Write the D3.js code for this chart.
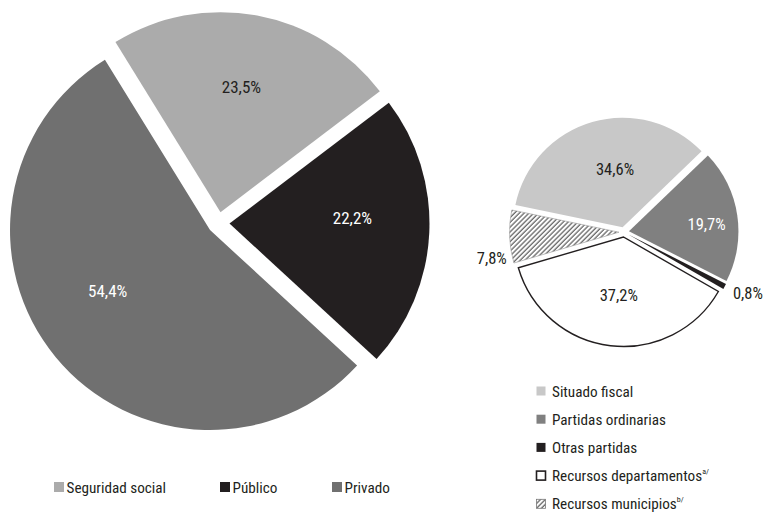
<!DOCTYPE html>
<html>
<head>
<meta charset="utf-8">
<script src="https://cdn.jsdelivr.net/npm/d3@7"></script>
<style>
  html, body { margin: 0; padding: 0; background: #fff; }
  svg { display: block; }
  text { font-family: "Liberation Sans Narrow", "Roboto Condensed", "Arial Narrow", "DejaVu Sans Condensed", sans-serif; }
</style>
</head>
<body>
<svg id="chart" width="765" height="513"></svg>
<script>
// ---- Data ----
const leftCategories = ["Seguridad social", "Público", "Privado"];
const leftValues = [23.5, 22.2, 54.4];
const leftLabels = ["23,5%", "22,2%", "54,4%"];

const rightCategories = ["Situado fiscal", "Partidas ordinarias", "Otras partidas", "Recursos departamentos", "Recursos municipios"];
const rightSuperscripts = ["", "", "", "a/", "b/"];
const rightValues = [34.6, 19.7, 0.8, 37.2, 7.8];
const rightLabels = ["34,6%", "19,7%", "0,8%", "37,2%", "7,8%"];

// ---- Styles / layout ----
const leftColors = ["#ababab", "#231f20", "#707070"];
const leftLabelColors = ["#231f20", "#ffffff", "#ffffff"];
const leftLabelLayout = [ {r: 138, shift: -1}, {r: 134, shift: -5}, {r: 130, shift: 8} ];

const rightFills = ["#c8c8c8", "#808080", "#231f20", "#ffffff", "url(#hatch)"];
const rightStrokes = ["none", "none", "none", "#231f20", "#9a9a9a"];
const rightStrokeW = [0, 0, 0, 1.4, 0.6];
const rightLabelColors = ["#231f20", "#ffffff", "#231f20", "#231f20", "#231f20"];
const rightLabelLayout = [
  {r: 64, shift: 8, anchor: "middle"},
  {r: 83, shift: 3, anchor: "middle"},
  {r: 125, shift: 1, anchor: "start"},
  {r: 63, shift: -2, anchor: "middle"},
  {r: 120, shift: -10, anchor: "end"}
];

const svg = d3.select("#chart");
const deg = Math.PI / 180;

// hatch pattern
const defs = svg.append("defs");
const pat = defs.append("pattern")
  .attr("id", "hatch").attr("patternUnits", "userSpaceOnUse")
  .attr("width", 3.4).attr("height", 3.4)
  .attr("patternTransform", "rotate(45)");
pat.append("rect").attr("width", 3.4).attr("height", 3.4).attr("fill", "#fff");
pat.append("line").attr("x1", 1).attr("y1", 0).attr("x2", 1).attr("y2", 3.4)
  .attr("stroke", "#4a4a4a").attr("stroke-width", 1.1);

function drawPie(cfg) {
  const pie = d3.pie().sort(null).value(d => d)
    .startAngle(cfg.start * deg).endAngle(cfg.start * deg + 2 * Math.PI);
  const arcs = pie(cfg.values);
  const arc = d3.arc().innerRadius(0).outerRadius(cfg.R);
  const g = svg.append("g").attr("transform", `translate(${cfg.cx},${cfg.cy})`);
  g.selectAll("path").data(arcs).join("path")
    .attr("d", arc)
    .attr("transform", d => {
      const m = (d.startAngle + d.endAngle) / 2;
      return `translate(${cfg.explode * Math.sin(m)},${-cfg.explode * Math.cos(m)})`;
    })
    .attr("fill", (d, i) => cfg.fills[i])
    .attr("stroke", (d, i) => cfg.strokes ? cfg.strokes[i] : "none")
    .attr("stroke-width", (d, i) => cfg.strokeW ? cfg.strokeW[i] : 0)
    .attr("stroke-linejoin", "miter");
  g.selectAll("text").data(arcs).join("text")
    .attr("x", (d, i) => {
      const m = (d.startAngle + d.endAngle) / 2 + cfg.layout[i].shift * deg;
      return cfg.layout[i].r * Math.sin(m);
    })
    .attr("y", (d, i) => {
      const m = (d.startAngle + d.endAngle) / 2 + cfg.layout[i].shift * deg;
      return -cfg.layout[i].r * Math.cos(m);
    })
    .attr("dy", "0.36em")
    .attr("text-anchor", (d, i) => cfg.layout[i].anchor || "middle")
    .attr("font-size", cfg.fontSize)
    .attr("fill", (d, i) => cfg.labelColors[i])
    .text((d, i) => cfg.labels[i]);
}

drawPie({
  cx: 218.5, cy: 223, R: 200, explode: 11, start: -31.7, fontSize: 17,
  values: leftValues, labels: leftLabels, fills: leftColors,
  labelColors: leftLabelColors, layout: leftLabelLayout
});

drawPie({
  cx: 624, cy: 232, R: 109.5, explode: 5, start: -78.3, fontSize: 16.5,
  values: rightValues, labels: rightLabels, fills: rightFills,
  strokes: rightStrokes, strokeW: rightStrokeW,
  labelColors: rightLabelColors, layout: rightLabelLayout
});

// ---- Left legend ----
const leftLegendX = [54, 220, 332];
const lg = svg.append("g");
leftCategories.forEach((c, i) => {
  lg.append("rect").attr("x", leftLegendX[i]).attr("y", 482).attr("width", 10).attr("height", 10)
    .attr("fill", leftColors[i]);
  lg.append("text").attr("x", leftLegendX[i] + 12.5).attr("y", 493)
    .attr("font-size", 15.2).attr("fill", "#231f20").text(c);
});

// ---- Right legend ----
const rg = svg.append("g");
rightCategories.forEach((c, i) => {
  const cy = 391 + i * 28.2;
  rg.append("rect").attr("x", 536.5).attr("y", cy - 4.5).attr("width", 9).attr("height", 9)
    .attr("fill", rightFills[i])
    .attr("stroke", i === 3 ? "#231f20" : (i === 4 ? "#777" : "none"))
    .attr("stroke-width", i === 3 ? 1.6 : (i === 4 ? 0.8 : 0));
  const t = rg.append("text").attr("x", 552).attr("y", cy + 5.5)
    .attr("font-size", 15.2).attr("fill", "#231f20");
  t.append("tspan").text(c);
  if (rightSuperscripts[i]) {
    t.append("tspan").attr("dy", -7).attr("font-size", 8).text(rightSuperscripts[i]);
  }
});
</script>
</body>
</html>
